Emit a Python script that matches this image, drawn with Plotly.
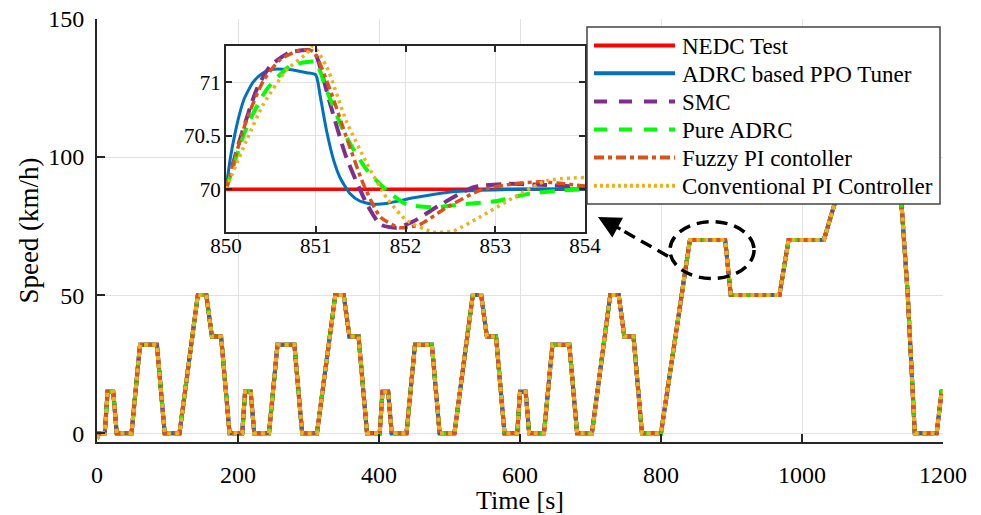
import plotly.graph_objects as go

# ---------------- data ----------------
# NEDC driving cycle breakpoints (time [s], speed [km/h])
nedc_t = [0, 11, 15, 23, 28, 49, 61, 85, 96, 117, 143, 155, 163, 176, 188,
          195, 206, 210, 218, 223, 244, 256, 280, 291, 312, 338, 350, 358, 371, 383,
          390, 401, 405, 413, 418, 439, 451, 475, 486, 507, 533, 545, 553, 566, 578,
          585, 596, 600, 608, 613, 634, 646, 670, 681, 702, 728, 740, 748, 761, 773,
          780, 800, 841, 891, 899, 968, 981, 1031, 1066, 1096, 1116, 1126, 1142, 1150,
          1160, 1191, 1198, 1200]
nedc_v = [0, 0, 15, 15, 0, 0, 32, 32, 0, 0, 50, 50, 35, 35, 0,
          0, 0, 15, 15, 0, 0, 32, 32, 0, 0, 50, 50, 35, 35, 0,
          0, 0, 15, 15, 0, 0, 32, 32, 0, 0, 50, 50, 35, 35, 0,
          0, 0, 15, 15, 0, 0, 32, 32, 0, 0, 50, 50, 35, 35, 0,
          0, 0, 70, 70, 50, 50, 70, 70, 100, 100, 120, 120, 80, 50,
          0, 0, 15, 15]
# controllers start slightly below zero
ctrl_t = [0, 3] + nedc_t[1:]
ctrl_v = [-2, 0] + nedc_v[1:]

# zoomed window 850-854 s
ref_t = [850, 854]
ref_v = [70, 70]
ppo_t = [850, 850.05, 850.1, 850.15, 850.2, 850.3, 850.4, 850.5, 850.7, 850.9, 851.0,
         851.05, 851.12, 851.2, 851.27, 851.38, 851.49, 851.64, 851.8, 852.09, 852.46,
         852.83, 853.3, 854]
ppo_v = [70, 70.3, 70.52, 70.7, 70.84, 71.0, 71.08, 71.12, 71.12, 71.09, 71.07,
         70.87, 70.55, 70.27, 70.11, 69.96, 69.89, 69.86, 69.87, 69.92, 69.97,
         69.99, 70.0, 70.0]
smc_t = [850, 850.15, 850.34, 850.49, 850.71, 850.94, 851.0, 851.16, 851.34, 851.57, 851.72, 851.9, 852.09, 852.38, 852.76, 853.13, 853.57, 854]
smc_v = [70, 70.45, 70.93, 71.15, 71.28, 71.30, 71.26, 70.80, 70.30, 69.86, 69.67, 69.64, 69.70, 69.85, 70.02, 70.05, 70.04, 70.02]
adrc_t = [850, 850.23, 850.45, 850.71, 850.9, 851.0, 851.12, 851.34, 851.57, 851.79, 852.01, 852.31, 852.64, 853.02, 853.39, 853.76, 854]
adrc_v = [70, 70.58, 70.93, 71.15, 71.19, 71.19, 70.93, 70.49, 70.18, 69.99, 69.86, 69.83, 69.86, 69.89, 69.96, 69.99, 70.0]
fuzzy_t = [850, 850.23, 850.42, 850.6, 850.82, 850.97, 851.16, 851.34, 851.53, 851.72, 851.94, 852.16, 852.46, 852.83, 853.2, 853.5, 854]
fuzzy_v = [70, 70.65, 71.02, 71.21, 71.30, 71.29, 70.93, 70.49, 70.05, 69.74, 69.64, 69.67, 69.83, 69.99, 70.05, 70.07, 70.03]
pi_t = [850, 850.23, 850.42, 850.68, 850.9, 850.97, 851.12, 851.34, 851.57, 851.79, 852.01, 852.31, 852.53, 852.83, 853.2, 853.57, 854]
pi_v = [70, 70.46, 70.80, 71.12, 71.27, 71.34, 71.15, 70.64, 70.24, 69.92, 69.71, 69.60, 69.61, 69.74, 69.92, 70.08, 70.11]

names = ["NEDC Test", "ADRC based PPO Tuner", "SMC", "Pure ADRC",
         "Fuzzy PI contoller", "Conventional PI Controller"]
colors = ["#ff0000", "#0072bd", "#7e2f8e", "#00ff00", "#d95319", "#edb120"]
main_dash = ["solid", "solid", "10px,6px", "10px,6px", "12px,2px,3px,2px", "4px,4px"]
inset_dash = ["solid", "solid", "15px,8px", "15px,10px", "9px,4px,4px,4px", "3px,4px"]
leg_dash = ["solid", "solid", "13px,12px", "13px,12px", "10px,4px,4px,4px", "3px,3px"]
inset_w = [3.5, 3, 4, 4, 3.5, 3.5]

inset_data = [(ref_t, ref_v), (ppo_t, ppo_v), (smc_t, smc_v), (adrc_t, adrc_v),
              (fuzzy_t, fuzzy_v), (pi_t, pi_v)]

FONT = "Liberation Serif"

# ---------------- geometry helpers ----------------
W, H = 981, 515
PL, PR, PT, PB = 97, 943, 19, 442          # plot area in pixels
ML, MT, MR, MB = PL, PT, W - PR, H - PB
PW, PH = PR - PL, PB - PT


def pxx(px):
    return (px - PL) / PW


def pxy(py):
    return (PB - py) / PH


fig = go.Figure()

# main traces
for i in range(6):
    t, v = (nedc_t, nedc_v) if i == 0 else (ctrl_t, ctrl_v)
    fig.add_trace(go.Scatter(x=t, y=v, mode="lines", name=names[i],
                             line=dict(color=colors[i], width=4, dash=main_dash[i]),
                             showlegend=False, xaxis="x", yaxis="y"))

# inset traces
for i in range(6):
    t, v = inset_data[i]
    fig.add_trace(go.Scatter(x=t, y=v, mode="lines", name=names[i],
                             line=dict(color=colors[i], width=inset_w[i], dash=inset_dash[i],
                                       shape="spline", smoothing=0.6),
                             showlegend=False, xaxis="x2", yaxis="y2"))

axis_common = dict(showline=True, linecolor="#262626", linewidth=2, ticks="inside",
                   tickcolor="#262626", tickwidth=2, showgrid=True, gridcolor="#e2e2e2",
                   gridwidth=1, zeroline=False, ticklabeloverflow="allow",
                   automargin=False)

fig.update_layout(
    width=W, height=H,
    margin=dict(l=ML, r=MR, t=MT, b=MB, autoexpand=False),
    paper_bgcolor="white", plot_bgcolor="white",
    font=dict(family=FONT, color="black"),
    showlegend=False,
    xaxis=dict(**axis_common, range=[0, 1200], tickvals=[0, 200, 400, 600, 800, 1000, 1200],
               ticklen=8, tickfont=dict(size=24, family=FONT), ticklabelstandoff=10,
               title=dict(text="Time [s]", font=dict(size=26, family=FONT), standoff=13),
               domain=[0, 1], anchor="y"),
    yaxis=dict(**axis_common, range=[-3.2, 150], tickvals=[0, 50, 100, 150],
               ticklen=8, tickfont=dict(size=24, family=FONT), ticklabelstandoff=6,
               title=dict(text="Speed (km/h)", font=dict(size=27, family=FONT), standoff=2),
               domain=[0, 1], anchor="x"),
    xaxis2=dict(**axis_common, range=[850, 854], tickvals=[850, 851, 852, 853, 854],
                ticklen=6, mirror="allticks", tickfont=dict(size=21, family=FONT),
                ticklabelstandoff=-6,
                domain=[pxx(226), pxx(585)], anchor="y2"),
    yaxis2=dict(**axis_common, range=[69.6, 71.34], tickvals=[70, 70.5, 71],
                ticklen=6, mirror="allticks", tickfont=dict(size=21, family=FONT),
                ticklabelstandoff=-1,
                domain=[pxy(232), pxy(46)], anchor="x2"),
)

# ---------------- annotations: ellipse + arrow ----------------
fig.add_shape(type="circle", xref="x", yref="y", x0=812.7, x1=932, y0=56, y1=76.6,
              line=dict(color="black", width=3.5, dash="12px,7px"), layer="above")
fig.add_shape(type="line", xref="x", yref="y", x0=809.9, y0=64.1, x1=744.7, y1=73.5,
              line=dict(color="black", width=3.5, dash="12px,7px"), layer="above")
fig.add_annotation(x=710.6, y=78.3, xref="x", yref="y", showarrow=True, text="",
                   ax=24, ay=13, arrowhead=2, arrowsize=1.4, arrowwidth=3.2,
                   arrowcolor="black")

# ---------------- legend (drawn manually) ----------------
fig.add_shape(type="rect", xref="paper", yref="paper",
              x0=pxx(587), x1=pxx(940), y0=pxy(204), y1=pxy(27),
              line=dict(color="#444444", width=1.5), fillcolor="white", layer="above")
row_px = [45.5, 73.3, 101.5, 129.5, 157.5, 185.7]
for i in range(6):
    yy = pxy(row_px[i])
    fig.add_shape(type="line", xref="paper", yref="paper",
                  x0=pxx(594), x1=pxx(675), y0=yy, y1=yy,
                  line=dict(color=colors[i], width=4, dash=leg_dash[i]), layer="above")
    fig.add_annotation(x=pxx(680), y=pxy(row_px[i] + 1), xref="paper", yref="paper",
                       text=names[i], showarrow=False, xanchor="left", yanchor="middle",
                       font=dict(size=23, family=FONT, color="black"))

# remove the default 8px page margin so the figure fills the window exactly
fig.write_html("out.html", config={"displayModeBar": False},
               post_script="document.body.style.margin='0';document.body.style.overflow='hidden';")
